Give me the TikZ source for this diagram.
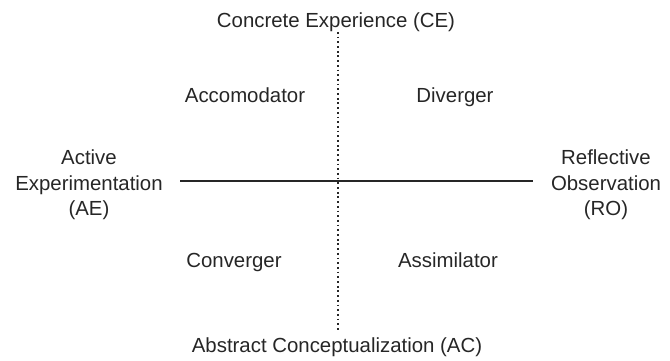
\documentclass[tikz,border=0pt]{standalone}
\usepackage{fontspec}
\setmainfont{Liberation Sans}
\usepackage{tikz}
\usetikzlibrary{positioning}

\begin{document}
\begin{tikzpicture}[x=1pt, y=1pt,
    axis/.style={line width=1.7pt, black!85},
    dots/.style={line width=1.7pt, black!85, dash pattern=on 1.8pt off 2.9pt},
    lbl/.style={font=\fontsize{20.4}{25.5}\selectfont, text=black!85, align=center, inner sep=0pt, anchor=base}]
    \useasboundingbox (0,0) rectangle (670,361);

    % poles of the two axes
    \node[lbl] (ce) at (336,333) {Concrete Experience (CE)};
    \node[lbl] (ac) at (337,8) {Abstract Conceptualization (AC)};
    \node[lbl] (ae) at (89,145) {Active\\Experimentation\\(AE)};
    \node[lbl] (ro) at (606,145) {Reflective\\Observation\\(RO)};

    % the four styles
    \node[lbl] (acc) at (245,258) {Accomodator};
    \node[lbl] (div) at (455,258) {Diverger};
    \node[lbl] (con) at (234,93) {Converger};
    \node[lbl] (ass) at (448,93) {Assimilator};

    \coordinate (top) at (338,329);
    \coordinate (bot) at (338,30);
    \coordinate (lft) at (180,180);
    \coordinate (rgt) at (533,180);

    \draw[axis] (lft) -- (rgt);
    \draw[dots] (top) -- (bot);

\end{tikzpicture}
\end{document}
